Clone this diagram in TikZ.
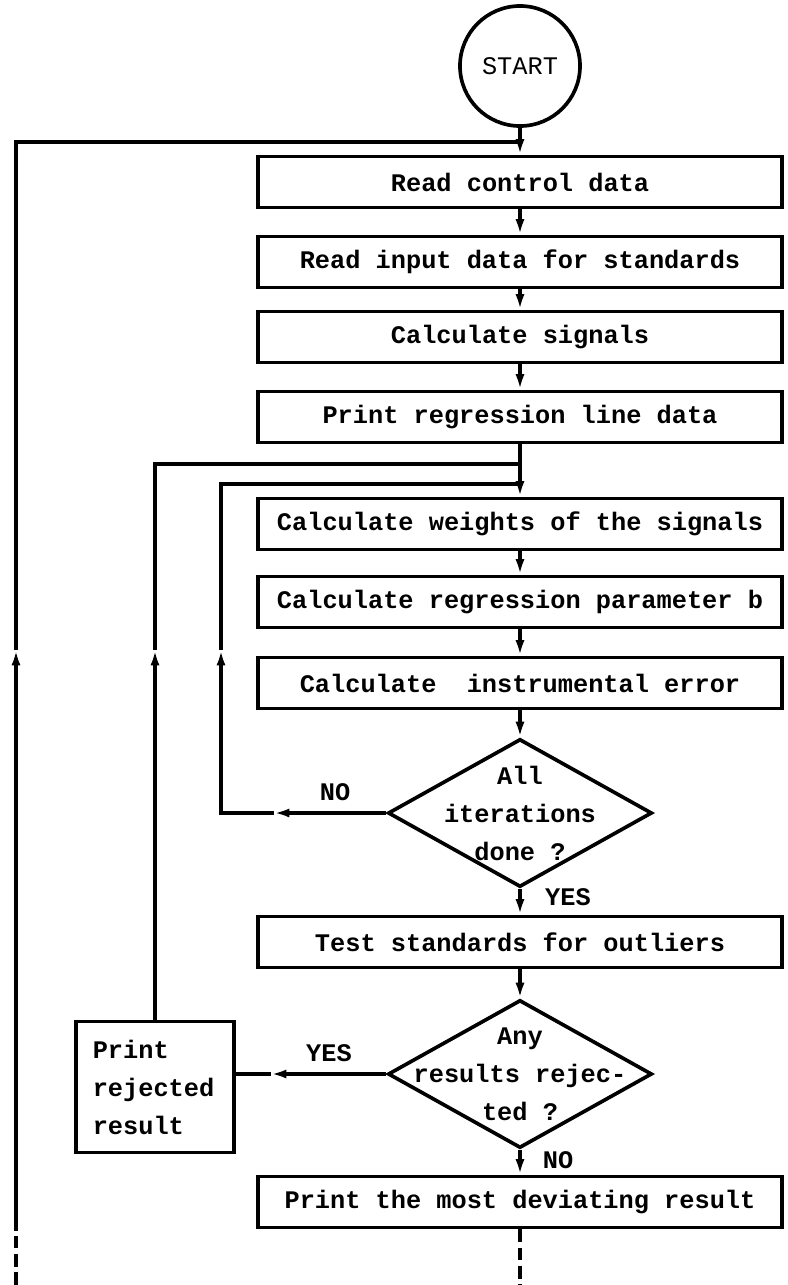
\documentclass[tikz,border=0pt]{standalone}
\usepackage{fontspec}
\setmonofont{Liberation Mono}
\usetikzlibrary{arrows.meta,shapes.geometric}

\begin{document}
\begin{tikzpicture}[
    x=0.025cm, y=-0.025cm,
    line width=2.2pt,
    every node/.style={font=\fontsize{18}{27}\selectfont\ttfamily\bfseries},
    proc/.style={rectangle, draw, line width=2.6pt, minimum width=13.1cm,
                 minimum height=1.28cm, inner sep=2pt},
    decision/.style={diamond, draw, line width=2.6pt, minimum width=6.6cm,
                     minimum height=3.7cm, inner sep=0pt},
    arr/.style={-{Latex[length=11pt,width=6.5pt]}},
    dashline/.style={dash pattern=on 9pt off 4pt}
]
\useasboundingbox (0,0) rectangle (788,1285);

% Main column
\node[circle, draw, line width=2.6pt, minimum size=3cm, inner sep=0pt,
      font=\fontsize{18}{27}\selectfont\ttfamily] (start) at (520,66) {START};
\node[proc] (ctrl) at (520,182) {Read control data};
\node[proc] (input) at (520,262) {Read input data for standards};
\node[proc] (signals) at (520,337) {Calculate signals};
\node[proc] (prline) at (520,417) {Print regression line data};
\node[proc] (weights) at (520,524) {Calculate weights of the signals};
\node[proc] (param) at (520,602) {Calculate regression parameter b};
\node[proc] (error) at (520,683) {Calculate\ \ instrumental error};
\node[decision, label={[align=center]center:{All\\iterations\\done ?}}]
    (iter) at (520,813) {};
\node[proc] (test) at (520,942) {Test standards for outliers};
\node[decision, label={[align=center]center:{Any\\results rejec-\\ted ?}}]
    (rej) at (520,1074) {};
\node[proc] (dev) at (520,1202) {Print the most deviating result};

% Side box
\node[proc, minimum width=3.95cm, minimum height=3.28cm, text width=3.11cm,
      inner xsep=0.42cm, align=left] (rejected) at (155,1087)
    {Print\\rejected\\result};

% Branch labels
\node (no1) at (335,792) {NO};
\node (yes1) at (568,897) {YES};
\node (yes2) at (329,1053) {YES};
\node (no2) at (558,1160) {NO};

% Corner points
\coordinate (topjoin) at (520,142);
\coordinate (outjoin) at (520,464);
\coordinate (injoin) at (520,484);
\coordinate (noTip) at (274,813);
\coordinate (inCorner) at (221,813);
\coordinate (inUp) at (221,650);
\coordinate (inTop) at (221,484);
\coordinate (yesTip) at (271,1074);
\coordinate (outUp) at (155,650);
\coordinate (outTop) at (155,464);
\coordinate (farBot) at (16,1285);
\coordinate (farDash) at (16,1230);
\coordinate (farUp) at (16,650);
\coordinate (farTop) at (16,142);
\coordinate (devEnd) at (520,1285);

% Straight flow
\foreach \a/\b in {start/ctrl, ctrl/input, input/signals, signals/prline,
                   prline/weights, weights/param, param/error, error/iter,
                   iter/test, test/rej, rej/dev}
    \draw[arr] (\a) -- (\b);

% Iteration loop
\draw[arr] (iter.west) -- (noTip);
\draw[arr] (noTip) -- (inCorner) -- (inUp);
\draw (inUp) -- (inTop) -- (injoin);

% Rejection loop
\draw[arr] (rej.west) -- (yesTip);
\draw (yesTip) -- (yesTip -| rejected.east);
\draw[arr] (rejected.north) -- (outUp);
\draw (outUp) -- (outTop) -- (outjoin);

% Outer loop
\draw[dashline] (farBot) -- (farDash);
\draw[arr] (farDash) -- (farUp);
\draw (farUp) -- (farTop) -- (topjoin);
\draw[dashline] (dev) -- (devEnd);

\end{tikzpicture}
\end{document}
